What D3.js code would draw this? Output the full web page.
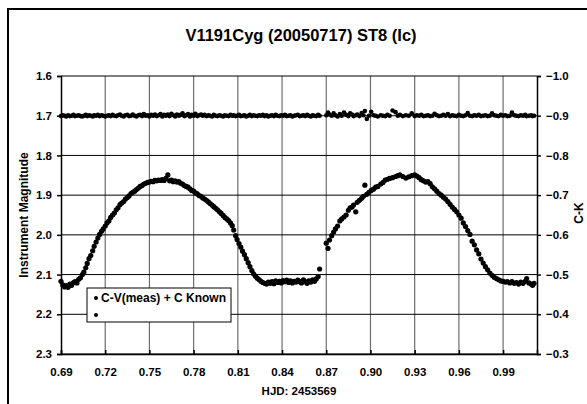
<!DOCTYPE html>
<html>
<head>
<meta charset="utf-8">
<script src="https://cdn.jsdelivr.net/npm/d3@7"></script>
<style>
  body { margin: 0; background: #fff; }
  svg text { font-family: Arial, "Liberation Sans", sans-serif; font-weight: bold; fill: #000; }
</style>
</head>
<body>
<div id="chart"></div>
<script>
// HJD - 2453569
let hjd = [
  0.6900,0.6912,0.6925,0.6935,0.6948,0.6960,0.6972,0.6985,0.6995,0.7008,
  0.7020,0.7032,0.7045,0.7055,0.7068,0.7078,0.7090,0.7102,0.7115,0.7125,
  0.7138,0.7150,0.7162,0.7175,0.7187,0.7200,0.7212,0.7225,0.7237,0.7250,
  0.7262,0.7275,0.7287,0.7300,0.7312,0.7325,0.7337,0.7350,0.7362,0.7375,
  0.7387,0.7400,0.7412,0.7425,0.7437,0.7450,0.7462,0.7475,0.7487,0.7500,
  0.7512,0.7525,0.7537,0.7550,0.7562,0.7575,0.7587,0.7600,0.7612,0.7625,
  0.7637,0.7650,0.7662,0.7675,0.7687,0.7700,0.7712,0.7725,0.7737,0.7750,
  0.7762,0.7775,0.7787,0.7800,0.7812,0.7825,0.7837,0.7850,0.7862,0.7875,
  0.7887,0.7900,0.7912,0.7925,0.7937,0.7950,0.7962,0.7975,0.7987,0.8000,
  0.8012,0.8025,0.8037,0.8050,0.8062,0.8072,0.8085,0.8095,0.8108,0.8120,
  0.8132,0.8145,0.8157,0.8170,0.8182,0.8195,0.8207,0.8220,0.8232,0.8245,
  0.8257,0.8270,0.8282,0.8295,0.8307,0.8320,0.8332,0.8345,0.8357,0.8370,
  0.8382,0.8395,0.8407,0.8420,0.8432,0.8445,0.8457,0.8470,0.8482,0.8495,
  0.8507,0.8520,0.8532,0.8545,0.8557,0.8570,0.8582,0.8595,0.8607,0.8620,
  0.8632,0.8645,0.8655,0.8700,0.8712,0.8722,0.8737,0.8750,0.8762,0.8777,
  0.8792,0.8805,0.8820,0.8835,0.8850,0.8862,0.8875,0.8885,0.8900,0.8910,
  0.8925,0.8940,0.8952,0.8962,0.8975,0.8990,0.9005,0.9020,0.9035,0.9050,
  0.9070,0.9085,0.9100,0.9115,0.9130,0.9150,0.9170,0.9185,0.9200,0.9220,
  0.9240,0.9260,0.9280,0.9300,0.9315,0.9330,0.9345,0.9360,0.9375,0.9390,
  0.9405,0.9420,0.9435,0.9450,0.9465,0.9480,0.9495,0.9510,0.9525,0.9540,
  0.9555,0.9570,0.9585,0.9600,0.9615,0.9630,0.9645,0.9660,0.9675,0.9690,
  0.9705,0.9720,0.9735,0.9750,0.9765,0.9780,0.9795,0.9810,0.9825,0.9840,
  0.9855,0.9870,0.9885,0.9900,0.9915,0.9930,0.9945,0.9960,0.9975,0.9990,
  1.0005,1.0020,1.0035,1.0050,1.0060,1.0075,1.0090,1.0100,1.0110
];

// C-V(meas) + C Known  (left axis)
let instMag = [
  2.117,2.126,2.131,2.128,2.132,2.124,2.127,2.120,2.118,2.121,
  2.112,2.108,2.100,2.094,2.083,2.072,2.060,2.052,2.040,2.029,
  2.018,2.008,1.999,1.991,1.985,1.978,1.970,1.965,1.956,1.950,
  1.945,1.937,1.932,1.924,1.920,1.916,1.910,1.906,1.902,1.896,
  1.893,1.890,1.886,1.882,1.878,1.876,1.872,1.870,1.868,1.867,
  1.865,1.866,1.863,1.864,1.862,1.863,1.861,1.863,1.858,1.849,
  1.864,1.862,1.866,1.864,1.867,1.866,1.870,1.872,1.876,1.878,
  1.880,1.884,1.888,1.890,1.894,1.897,1.901,1.903,1.907,1.910,
  1.913,1.917,1.921,1.925,1.929,1.933,1.937,1.942,1.946,1.951,
  1.956,1.960,1.964,1.970,1.977,1.988,2.002,2.012,2.022,2.031,
  2.041,2.050,2.060,2.070,2.080,2.090,2.098,2.104,2.109,2.113,
  2.117,2.120,2.122,2.124,2.119,2.122,2.118,2.123,2.116,2.120,
  2.117,2.121,2.115,2.118,2.114,2.120,2.116,2.121,2.117,2.119,
  2.114,2.118,2.121,2.113,2.118,2.122,2.116,2.119,2.113,2.117,
  2.111,2.105,2.086,2.021,2.034,2.013,2.002,1.993,1.985,1.978,
  1.965,1.960,1.955,1.950,1.938,1.932,1.930,1.925,1.942,1.918,
  1.913,1.908,1.903,1.875,1.898,1.893,1.888,1.885,1.880,1.878,
  1.872,1.868,1.862,1.860,1.858,1.856,1.853,1.851,1.849,1.853,
  1.857,1.854,1.851,1.849,1.852,1.856,1.861,1.864,1.867,1.866,
  1.871,1.879,1.884,1.890,1.896,1.900,1.905,1.910,1.916,1.923,
  1.930,1.936,1.942,1.950,1.958,1.970,1.979,1.989,1.999,2.016,
  2.025,2.038,2.048,2.061,2.071,2.080,2.088,2.096,2.102,2.107,
  2.110,2.113,2.116,2.117,2.119,2.118,2.121,2.118,2.122,2.120,
  2.124,2.119,2.122,2.117,2.110,2.121,2.124,2.127,2.122
];

// C-K check star (right axis)
let checkMag = [
  -0.899,-0.901,-0.900,-0.898,-0.901,-0.899,-0.900,-0.902,-0.899,-0.900,
  -0.901,-0.899,-0.898,-0.900,-0.902,-0.899,-0.901,-0.900,-0.898,-0.901,
  -0.900,-0.902,-0.899,-0.901,-0.900,-0.898,-0.900,-0.901,-0.899,-0.902,
  -0.900,-0.899,-0.901,-0.903,-0.900,-0.898,-0.901,-0.902,-0.899,-0.900,
  -0.903,-0.900,-0.898,-0.901,-0.902,-0.899,-0.904,-0.900,-0.901,-0.898,
  -0.902,-0.900,-0.903,-0.899,-0.901,-0.904,-0.898,-0.902,-0.900,-0.903,
  -0.899,-0.905,-0.901,-0.898,-0.903,-0.900,-0.902,-0.906,-0.899,-0.901,
  -0.904,-0.898,-0.902,-0.900,-0.905,-0.899,-0.901,-0.903,-0.900,-0.902,
  -0.899,-0.901,-0.900,-0.898,-0.902,-0.900,-0.899,-0.901,-0.900,-0.898,
  -0.901,-0.900,-0.899,-0.902,-0.900,-0.901,-0.899,-0.900,-0.902,-0.899,
  -0.900,-0.901,-0.898,-0.900,-0.902,-0.899,-0.901,-0.900,-0.899,-0.901,
  -0.900,-0.902,-0.899,-0.901,-0.898,-0.900,-0.901,-0.899,-0.902,-0.900,
  -0.899,-0.901,-0.900,-0.902,-0.899,-0.900,-0.901,-0.898,-0.900,-0.901,
  -0.902,-0.899,-0.900,-0.901,-0.899,-0.902,-0.900,-0.898,-0.901,-0.900,
  -0.899,-0.902,-0.900,-0.901,-0.908,-0.903,-0.900,-0.906,-0.901,-0.898,
  -0.904,-0.900,-0.908,-0.902,-0.899,-0.906,-0.903,-0.899,-0.901,-0.903,
  -0.899,-0.907,-0.901,-0.912,-0.892,-0.900,-0.910,-0.901,-0.900,-0.898,
  -0.901,-0.900,-0.899,-0.902,-0.900,-0.913,-0.909,-0.900,-0.902,-0.899,
  -0.901,-0.900,-0.906,-0.899,-0.901,-0.900,-0.902,-0.899,-0.900,-0.901,
  -0.899,-0.900,-0.905,-0.901,-0.899,-0.900,-0.902,-0.900,-0.904,-0.899,
  -0.901,-0.900,-0.899,-0.902,-0.900,-0.899,-0.901,-0.907,-0.900,-0.899,
  -0.901,-0.900,-0.902,-0.899,-0.900,-0.901,-0.899,-0.900,-0.906,-0.901,
  -0.900,-0.899,-0.902,-0.900,-0.901,-0.899,-0.900,-0.908,-0.901,-0.900,
  -0.899,-0.901,-0.900,-0.902,-0.899,-0.900,-0.901,-0.899,-0.900
];

let xTicks = [0.69, 0.72, 0.75, 0.78, 0.81, 0.84, 0.87, 0.90, 0.93, 0.96, 0.99];
let yLeftTicks = [1.6, 1.7, 1.8, 1.9, 2.0, 2.1, 2.2, 2.3];
let yRightTicks = [-1.0, -0.9, -0.8, -0.7, -0.6, -0.5, -0.4, -0.3];

let title = "V1191Cyg (20050717) ST8 (Ic)";
let legendLabels = ["C-V(meas) + C Known", ""];

const W = 587, H = 404;
const margin = {top: 76, right: 50, bottom: 50, left: 61};
const plotW = 537 - margin.left, plotH = 354 - margin.top;

let svg = d3.select("#chart").append("svg")
    .attr("width", W)
    .attr("height", H);

// outer chart border (cropped at right / bottom)
svg.append("rect")
    .attr("x", 8).attr("y", 9)
    .attr("width", 700).attr("height", 500)
    .attr("fill", "#fff")
    .attr("stroke", "#000")
    .attr("stroke-width", 2);

let x = d3.scaleLinear().domain([0.69, 1.013]).range([0, plotW]);
let yL = d3.scaleLinear().domain([1.6, 2.3]).range([0, plotH]);
let yR = d3.scaleLinear().domain([-1.0, -0.3]).range([0, plotH]);

let g = svg.append("g").attr("transform", "translate(" + margin.left + "," + margin.top + ")");

// gridlines
g.selectAll(".vgrid").data(xTicks.slice(1)).enter().append("line")
    .attr("x1", d => x(d)).attr("x2", d => x(d))
    .attr("y1", 0).attr("y2", plotH)
    .attr("stroke", "#6e6e6e").attr("stroke-width", 1.2);
g.selectAll(".hgrid").data(yLeftTicks).enter().append("line")
    .attr("x1", 0).attr("x2", plotW)
    .attr("y1", d => yL(d)).attr("y2", d => yL(d))
    .attr("stroke", "#000").attr("stroke-width", 1);

// axes
let xAxis = d3.axisBottom(x).tickValues(xTicks).tickSize(-4).tickPadding(14)
    .tickFormat(d3.format(".2f"));
let leftAxis = d3.axisLeft(yL).tickValues(yLeftTicks).tickSize(4).tickPadding(5)
    .tickFormat(d3.format(".1f"));
let rightAxis = d3.axisRight(yR).tickValues(yRightTicks).tickSize(4).tickPadding(5)
    .tickFormat(d3.format(".1f"));

function styleAxis(sel) {
    sel.select(".domain").attr("stroke", "#000").attr("stroke-width", 1.5);
    sel.selectAll(".tick line").attr("stroke", "#000").attr("stroke-width", 1.5);
    sel.selectAll(".tick text").style("font-size", "11.5px").attr("font-family", null);
}

g.append("g").attr("transform", "translate(0," + plotH + ")").call(xAxis).call(styleAxis);
g.append("g").call(leftAxis).call(styleAxis);
g.append("g").attr("transform", "translate(" + plotW + ",0)").call(rightAxis).call(styleAxis);

// check star series
g.selectAll(".ck").data(hjd).enter().append("circle")
    .attr("cx", d => x(d))
    .attr("cy", (d, i) => yR(checkMag[i]))
    .attr("r", 2.3)
    .attr("fill", "#000");

// variable series
g.selectAll(".var").data(hjd).enter().append("circle")
    .attr("cx", d => x(d))
    .attr("cy", (d, i) => yL(instMag[i]))
    .attr("r", 2.6)
    .attr("fill", "#000");

// title + axis titles
svg.append("text").attr("x", 301).attr("y", 41).attr("text-anchor", "middle")
    .style("font-size", "16.5px").text(title);
svg.append("text").attr("x", 299).attr("y", 395).attr("text-anchor", "middle")
    .style("font-size", "11.5px").text("HJD: 2453569");
svg.append("text").attr("transform", "translate(28,215) rotate(-90)").attr("text-anchor", "middle")
    .style("font-size", "12px").text("Instrument Magnitude");
svg.append("text").attr("transform", "translate(583,213) rotate(-90)").attr("text-anchor", "middle")
    .style("font-size", "12px").text("C-K");

// legend
let legend = svg.append("g").attr("transform", "translate(87,288)");
legend.append("rect").attr("width", 144).attr("height", 34)
    .attr("fill", "#fff").attr("stroke", "#000").attr("stroke-width", 1);
legendLabels.forEach((lab, i) => {
    legend.append("circle").attr("cx", 9).attr("cy", 10 + i * 17).attr("r", 2).attr("fill", "#000");
    legend.append("text").attr("x", 14).attr("y", 14 + i * 17)
        .style("font-size", "12px").text(lab);
});
</script>
</body>
</html>
